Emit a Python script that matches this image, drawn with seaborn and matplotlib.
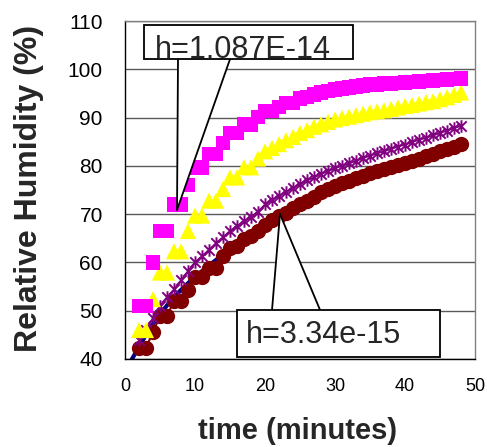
import numpy as np
import pandas as pd
import matplotlib
matplotlib.use("Agg")
import matplotlib.pyplot as plt
import seaborn as sns
from matplotlib.patches import Rectangle, Polygon
from matplotlib.path import Path

sns.set_style("white")
plt.rcParams['font.family'] = ['Liberation Sans', 'DejaVu Sans']

# ---- data (time in minutes, RH in %) ----
t = [2, 3, 4, 5, 6, 7, 8, 9, 10, 11, 12, 13, 14, 15, 16, 17, 18, 19, 20, 21, 22, 23, 24, 25,
     26, 27, 28, 29, 30, 31, 32, 33, 34, 35, 36, 37, 38, 39, 40, 41, 42, 43, 44, 45, 46, 47, 48]

rh_pink = [51, 51, 60, 66.5, 66.5, 72, 72, 76, 79.7, 79.7, 82.5, 82.5, 84.7, 86.8, 86.8, 88.6,
           88.6, 90.1, 91.4, 91.4, 92.2, 93.0, 93.0, 93.9, 94.3, 94.8, 95.2, 95.5, 95.8, 96.0,
           96.2, 96.4, 96.6, 96.8, 96.9, 97.0, 97.1, 97.2, 97.3, 97.4, 97.5, 97.6, 97.7, 97.8,
           97.9, 98.0, 98.1]

rh_yellow = [46, 46, 52.4, 57.9, 57.9, 62.3, 62.3, 66.5, 69.7, 69.7, 72.8, 72.8, 75.2, 77.6,
             77.6, 79.7, 79.7, 81.5, 83.0, 83.7, 84.5, 85.3, 86.0, 86.8, 87.4, 88.1, 88.6, 89.1,
             89.6, 89.9, 90.2, 90.5, 90.8, 91.1, 91.3, 91.5, 91.8, 92.1, 92.4, 92.6, 92.9, 93.2,
             93.4, 93.8, 94.2, 94.7, 95.2]

rh_purple = [43.9, 46, 48.5, 51, 52.8, 54.4, 56.3, 58.2, 60.0, 61.3, 62.6, 64.0, 65.2, 66.5,
             67.5, 68.5, 69.4, 70.5, 72.0, 73.0, 73.8, 74.6, 75.4, 76.2, 77.0, 77.6, 78.3, 78.9,
             79.5, 80.0, 80.5, 81.0, 81.6, 82.1, 82.6, 83.0, 83.5, 84.0, 84.4, 84.9, 85.4, 85.8,
             86.3, 86.8, 87.3, 87.8, 88.3]

rh_maroon = [42.3, 42.3, 45.6, 48.9, 48.9, 52.0, 52.0, 54.3, 56.9, 56.9, 58.9, 58.9, 61.4, 63.0,
             63.5, 64.8, 65.5, 66.5, 67.8, 68.8, 69.7, 70.2, 71.2, 72.1, 72.8, 73.6, 74.5, 75.2,
             75.9, 76.4, 76.9, 77.4, 78.0, 78.5, 78.9, 79.3, 79.7, 80.2, 80.6, 81.0, 81.5, 82.0,
             82.5, 83.0, 83.5, 84.0, 84.6]

# model curve (navy line)
t_model = [0.5, 1, 2, 3, 4, 5, 6, 7, 8, 9, 10, 11, 12, 13, 14, 15, 16, 17, 18, 19, 20, 21, 22,
           23, 24, 25, 26, 27, 28, 29, 30, 31, 32, 33, 34, 35, 36, 37, 38, 39, 40, 41, 42, 43,
           44, 45, 46, 47, 48]
rh_model = [38.7, 40.0, 42.5, 45.0, 47.3, 49.3, 51.1, 52.8, 54.3, 55.7, 57.0, 58.2, 59.4, 60.5,
            61.6, 62.6, 63.6, 64.6, 65.5, 66.4, 67.3, 68.2, 69.1, 70.0, 70.8, 71.6, 72.4, 73.2,
            73.9, 74.6, 75.3, 76.0, 76.6, 77.2, 77.8, 78.4, 78.9, 79.4, 79.9, 80.4, 80.9, 81.4,
            81.9, 82.3, 82.7, 83.1, 83.5, 83.9, 84.3]

df = pd.DataFrame({'t': t, 'pink': rh_pink, 'yellow': rh_yellow,
                   'purple': rh_purple, 'maroon': rh_maroon})
model = pd.DataFrame({'t': t_model, 'rh': rh_model})

# excel style star marker: an x with a vertical bar through it
star = Path([(-1, -1), (1, 1), (-1, 1), (1, -1), (0, -1.2), (0, 1.2)],
            [Path.MOVETO, Path.LINETO, Path.MOVETO, Path.LINETO, Path.MOVETO, Path.LINETO])

fig = plt.figure(figsize=(4.87, 4.47), dpi=100)
ax = fig.add_axes([0.2567, 0.1969, 0.7187, 0.7561])

sns.lineplot(data=model, x='t', y='rh', color='#000080', linewidth=3, ax=ax, zorder=2)
sns.lineplot(data=df, x='t', y='maroon', color='#800000', linewidth=1.5, marker='o',
             markersize=11, markeredgewidth=0, ax=ax, zorder=3)
sns.lineplot(data=df, x='t', y='purple', color='#800080', linewidth=1.3, marker=star,
             markersize=9, markeredgewidth=1.4, markeredgecolor='#800080',
             markerfacecolor='none', ax=ax, zorder=4)
sns.scatterplot(data=df, x='t', y='yellow', color='#FFFF00', marker='^', s=135,
                edgecolor='none', ax=ax, zorder=5)
sns.scatterplot(data=df, x='t', y='pink', color='#FF00FF', marker='s', s=110,
                edgecolor='none', ax=ax, zorder=6)

ax.set_xlim(0, 50)
ax.set_ylim(40, 110)
ax.set_xticks([0, 10, 20, 30, 40, 50])
ax.set_yticks([40, 50, 60, 70, 80, 90, 100, 110])
ax.yaxis.grid(True, color='#5a5a5a', linewidth=1)
ax.set_axisbelow(True)
ax.set_xlabel('')
ax.set_ylabel('')

for side in ['left', 'bottom']:
    ax.spines[side].set_color('black')
    ax.spines[side].set_linewidth(1)
for side in ['top', 'right']:
    ax.spines[side].set_color('#808080')
    ax.spines[side].set_linewidth(1)

ax.tick_params(axis='y', direction='inout', length=7, width=1, labelsize=15, pad=12.5,
               colors='black')
ax.tick_params(axis='x', direction='out', length=3.6, width=1, labelsize=13, pad=10,
               colors='black')

fig.text(0.494 * 0.7187 + 0.2567, 1 - 431 / 447, 'time (minutes)', fontsize=21,
         fontweight='bold', ha='center', va='center')
fig.text(29 / 487, 1 - 188 / 447, 'Relative Humidity (%)', fontsize=23,
         fontweight='bold', ha='center', va='center', rotation=90)

# ---- callouts ----
def callout(box, base, tip, label, text_xy):
    bx, by, bw, bh = box
    ax.add_patch(Polygon([base[0], tip, base[1]], closed=True, facecolor='white',
                         edgecolor='none', zorder=10))
    for b in base:
        ax.plot([b[0], tip[0]], [b[1], tip[1]], color='black', linewidth=1.3, zorder=11)
    ax.add_patch(Rectangle((bx, by), bw, bh, facecolor='white', edgecolor='black',
                           linewidth=1.3, zorder=12))
    ax.text(text_xy[0], text_xy[1], label, fontsize=22, ha='center', va='baseline',
            zorder=13)

callout((2.71, 102.1, 29.9, 7.1), [(7.57, 102.1), (15.0, 102.1)], (7.43, 70.9),
        'h=1.087E-14', (16.8, 102.4))
callout((16.0, 40.4, 29.0, 9.75), [(21.0, 50.15), (27.86, 50.15)], (22.14, 70.0),
        'h=3.34e-15', (28.4, 43.3))

fig.savefig('out.png', dpi=100)
